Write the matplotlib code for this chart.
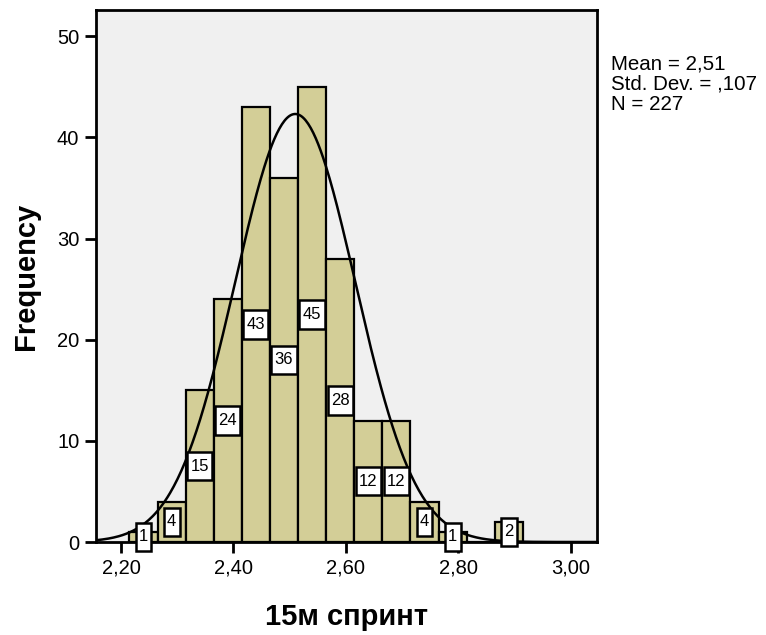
import numpy as np
import matplotlib
matplotlib.use("Agg")
import matplotlib.pyplot as plt
from matplotlib.path import Path
from matplotlib.ticker import FuncFormatter

plt.rcParams['font.family'] = ['Liberation Sans', 'DejaVu Sans']

# histogram data
bin_left = [2.215, 2.265, 2.315, 2.365, 2.415, 2.465, 2.515, 2.565,
            2.615, 2.665, 2.715, 2.765, 2.815, 2.865]
counts = [1, 4, 15, 24, 43, 36, 45, 28, 12, 12, 4, 1, 0, 2]
bin_width = 0.05
mean, sd, n = 2.51, 0.107, 227
stats_text = ["Mean = 2,51", "Std. Dev. = ,107", "N = 227"]


def tall_box(x0, y0, width, height, mutation_size):
    # label box: narrow side padding, taller top/bottom padding
    px, py = 0.2 * mutation_size, 0.4 * mutation_size
    x0, y0 = x0 - px, y0 - py
    x1, y1 = x0 + width + 2 * px, y0 + height + 2 * py
    return Path([(x0, y0), (x1, y0), (x1, y1), (x0, y1), (x0, y0)], closed=True)


fig = plt.figure(figsize=(7.66, 6.35), dpi=100)
ax = fig.add_axes([96 / 766, 93 / 635, 501 / 766, 532 / 635])
ax.set_facecolor('#F0F0F0')

ax.bar(bin_left, counts, width=bin_width, align='edge',
       color='#D3CE97', edgecolor='black', linewidth=1.6, zorder=2)

xs = np.linspace(2.1555, 3.047, 400)
ys = n * bin_width / (sd * np.sqrt(2 * np.pi)) * np.exp(-0.5 * ((xs - mean) / sd) ** 2)
ax.plot(xs, ys, color='black', linewidth=1.8, zorder=3)

for left, c in zip(bin_left, counts):
    if c == 0:
        continue
    ax.text(left + bin_width / 2, c / 2, str(c), ha='center', va='center',
            fontsize=12, zorder=4,
            bbox=dict(boxstyle=tall_box, fc='white', ec='black', lw=1.8))

ax.set_xlim(2.1555, 3.047)
ax.set_ylim(0, 52.6)
ax.set_xticks([2.2, 2.4, 2.6, 2.8, 3.0])
ax.set_yticks([0, 10, 20, 30, 40, 50])
ax.xaxis.set_major_formatter(FuncFormatter(lambda v, p: f"{v:.2f}".replace('.', ',')))
ax.tick_params(axis='both', direction='out', length=8, width=2, labelsize=14.5, pad=4)
for s in ax.spines.values():
    s.set_linewidth(2)

ax.set_xlabel('15м спринт', fontsize=21, fontweight='bold', labelpad=18)
ax.set_ylabel('Frequency', fontsize=21, fontweight='bold', labelpad=12)

for i, line in enumerate(stats_text):
    fig.text(611 / 766, 1 - (64 + 20 * i) / 635, line, fontsize=14.8,
             ha='left', va='center')

fig.savefig('out.png', dpi=100)
